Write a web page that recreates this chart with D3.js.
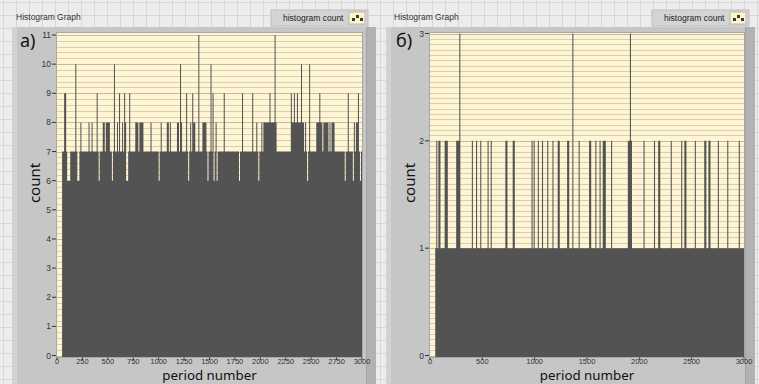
<!DOCTYPE html>
<html><head><meta charset="utf-8">
<script src="https://cdn.jsdelivr.net/npm/d3@7"></script>
<style>body{margin:0;background:#ececec;}svg{display:block}</style>
</head><body><svg id="c" width="759" height="384"></svg>
<script>
// ---- data ----
const binWidth = 10; // periods per bin
const countsA = [
0,0,0,0,0,7,7,9,9,7, 6,6,6,7,7,7,7,7,10,7,
6,6,7,8,7,7,7,7,7,7, 7,8,7,7,8,7,7,7,7,9,
7,6,7,7,7,8,8,7,8,8, 8,8,7,7,6,7,10,7,7,8,
7,9,7,7,8,7,9,8,6,6, 7,9,7,7,7,7,7,8,8,8,
7,8,8,8,8,7,7,7,7,7, 7,7,8,7,7,7,7,7,7,7,
6,7,8,7,7,7,7,7,8,8, 7,8,7,7,7,7,7,7,8,8,
7,10,8,7,7,7,7,9,7,6, 7,8,7,9,8,8,7,7,7,11,
7,7,7,8,8,8,8,7,6,7, 7,10,7,9,6,7,8,6,7,7,
7,7,7,7,9,7,7,7,7,7, 7,7,7,7,7,7,7,7,7,6,
7,7,9,7,7,7,7,7,7,7, 7,7,9,7,7,7,8,7,6,7,
7,8,7,8,8,8,8,8,8,9, 8,8,8,8,11,8,7,7,7,7,
7,7,7,7,7,7,7,7,7,7, 9,8,8,9,8,8,9,8,8,8,
10,8,8,7,8,7,6,7,10,7, 7,7,7,7,7,8,8,8,9,8,
8,7,8,8,8,8,8,7,8,7, 8,8,8,7,7,7,7,7,7,7,
7,7,7,6,7,7,9,7,7,7, 7,6,8,7,8,8,9,7,6,7
];
const countsB = [
0,0,0,0,0,1,2,1,2,2, 1,1,1,1,2,2,2,1,1,1,
1,1,1,1,1,2,2,2,3,1, 1,1,1,1,1,1,1,1,1,1,
2,1,1,1,2,1,1,1,2,1, 1,1,1,1,1,2,1,1,2,1,
1,1,1,1,1,1,1,1,1,1, 1,1,2,2,1,1,1,1,1,2,
2,1,1,1,1,1,1,1,1,1, 1,1,1,1,1,1,1,2,1,2,
1,1,1,2,1,1,1,2,1,1, 1,1,2,1,1,1,1,2,1,1,
1,1,2,2,1,1,1,1,1,1, 1,2,2,1,1,1,3,1,1,1,
1,1,2,1,1,1,1,1,1,1, 1,1,2,2,1,1,1,1,2,1,
1,1,2,1,1,2,2,2,1,1, 1,1,1,2,1,1,1,1,1,1,
1,1,1,1,1,1,1,1,1,2, 2,3,2,1,1,1,1,1,1,1,
1,1,1,1,2,1,1,1,1,1, 1,1,1,1,2,1,1,1,2,2,
1,1,1,1,1,1,1,1,1,1, 2,1,1,1,1,1,1,1,1,1,
2,1,1,2,2,1,1,1,1,1, 1,1,1,2,1,1,1,1,1,1,
1,1,2,2,1,1,2,2,1,1, 1,1,1,1,1,2,1,1,1,1,
1,1,1,1,2,1,1,1,1,1, 1,1,1,1,1,2,1,1,1,1
];
const xTicksA = [0,250,500,750,1000,1250,1500,1750,2000,2250,2500,2750,3000];
const xTicksB = [0,500,1000,1500,2000,2500,3000];
const yTicksA = [0,1,2,3,4,5,6,7,8,9,10,11];
const yTicksB = [0,1,2,3];
const xMax = 3000;
const panelTitle = "Histogram Graph";
const legendText = "histogram count";
const xTitle = "period number";
const yTitle = "count";

// ---- drawing ----
const svg = d3.select("#c");
const W = 759, H = 384;

const defs = svg.append("defs");
const pat = defs.append("pattern").attr("id","grid").attr("width",13).attr("height",13)
  .attr("patternUnits","userSpaceOnUse").attr("x",3).attr("y",2);
pat.append("rect").attr("width",13).attr("height",13).attr("fill","#ececec");
pat.append("path").attr("d","M0,0.5H13M0.5,0V13").attr("stroke","#d7d7d7").attr("stroke-width",1);
svg.append("rect").attr("width",W).attr("height",H).attr("fill","url(#grid)");

const panels = [
  {label:"a)", counts:countsA, xt:xTicksA, yt:yTicksA, yMax:11,
   bx:12, bw:364, px0:57, px1:362, yTop:35, titleX:16, legX:271,
   labX:20, yTitleX:40},
  {label:"б)", counts:countsB, xt:xTicksB, yt:yTicksB, yMax:3,
   bx:386, bw:369, px0:430, px1:744, yTop:33.5, titleX:394, legX:652,
   labX:396, yTitleX:415}
];

const tickFont = "'Liberation Sans Narrow','Arial Narrow','Liberation Sans',sans-serif";
const uiFont = "'Liberation Sans','DejaVu Sans',sans-serif";
const bigFont = "'Noto Sans','Open Sans',sans-serif";

panels.forEach(p => {
  const g = svg.append("g");
  g.append("text").attr("x",p.titleX).attr("y",20).text(panelTitle)
    .attr("font-family",uiFont).attr("font-size",8.5).attr("fill","#333");
  g.append("rect").attr("x",p.bx).attr("y",27).attr("width",p.bw).attr("height",H-27)
    .attr("fill","#c6c6c6");
  g.append("rect").attr("x",p.bx).attr("y",27).attr("width",5).attr("height",H-27)
    .attr("fill","#d2d2d2");
  g.append("rect").attr("x",p.bx+p.bw-10).attr("y",27).attr("width",10).attr("height",H-27)
    .attr("fill","#b2b2b2");
  g.append("rect").attr("x",p.bx+p.bw-10).attr("y",27).attr("width",1).attr("height",H-27)
    .attr("fill","#a4a4a4");
  g.append("rect").attr("x",p.legX).attr("y",10).attr("width",97).attr("height",16)
    .attr("fill","#d4d4d4").attr("stroke","#bdbdbd");
  g.append("text").attr("x",p.legX+12).attr("y",21).text(legendText)
    .attr("font-family",uiFont).attr("font-size",8.5).attr("fill","#222");
  const ic = g.append("g").attr("transform",`translate(${p.legX+78},12)`);
  ic.append("rect").attr("width",16).attr("height",12).attr("fill","#fff3c8").attr("stroke","#b8b8b8");
  ic.append("rect").attr("x",3).attr("y",6).attr("width",3).attr("height",3).attr("fill","#3a3a3a");
  ic.append("rect").attr("x",7).attr("y",3).attr("width",3).attr("height",3).attr("fill","#3a3a3a");
  ic.append("rect").attr("x",11).attr("y",6).attr("width",3).attr("height",3).attr("fill","#3a3a3a");

  const x = d3.scaleLinear().domain([0,xMax]).range([p.px0,p.px1]);
  const y = d3.scaleLinear().domain([0,p.yMax]).range([355.5,p.yTop]);
  const plotTop = 33, plotBot = 357;

  g.append("rect").attr("x",p.px0).attr("y",plotTop).attr("width",p.px1-p.px0)
    .attr("height",plotBot-plotTop).attr("fill","#fff5d2");
  const minorStep = p.yMax > 5 ? 0.2 : 0.05;
  const nMinor = Math.round(p.yMax/minorStep);
  const gridVals = d3.range(0,nMinor+1).map(k=>k*minorStep);
  g.append("g").selectAll("line").data(gridVals).join("line")
    .attr("x1",p.px0).attr("x2",p.px1)
    .attr("y1",d=>Math.round(y(d))+0.5).attr("y2",d=>Math.round(y(d))+0.5)
    .attr("stroke",d=>Math.abs(d-Math.round(d))<1e-6?"#c2bca6":"#d6cfb6").attr("stroke-width",1);

  const pts = p.counts.map((c,i)=>({x0:i*binWidth,c}));
  pts.push({x0:p.counts.length*binWidth, c:p.counts[p.counts.length-1]});
  const area = d3.area().curve(d3.curveStepAfter)
    .x(d=>x(d.x0)).y0(y(0)+1.5).y1(d=>d.c>0?y(d.c):y(0)+1.5);
  g.append("path").datum(pts).attr("d",area).attr("fill","#535353");

  g.append("rect").attr("x",p.px0-0.5).attr("y",plotTop-0.5).attr("width",p.px1-p.px0+1)
    .attr("height",plotBot-plotTop+1).attr("fill","none").attr("stroke","#a8a8a8");

  const ya = g.append("g");
  p.yt.forEach(v=>{
    ya.append("line").attr("x1",p.px0-5).attr("x2",p.px0-1).attr("y1",y(v)).attr("y2",y(v))
      .attr("stroke","#333").attr("stroke-width",1);
    ya.append("text").attr("x",p.px0-6).attr("y",y(v)+3).attr("text-anchor","end")
      .attr("font-family",tickFont).attr("font-size",8.5).attr("fill","#333").text(v);
  });
  const xa = g.append("g");
  p.xt.forEach(v=>{
    xa.append("line").attr("x1",x(v)).attr("x2",x(v)).attr("y1",357.5).attr("y2",360)
      .attr("stroke","#333").attr("stroke-width",1);
    xa.append("text").attr("x",x(v)).attr("y",364.3).attr("text-anchor","middle")
      .attr("font-family",tickFont).attr("font-size",7.5).attr("fill","#333").text(v);
  });
  g.append("text").attr("x",(p.px0+p.px1)/2).attr("y",380.2).attr("text-anchor","middle")
    .attr("font-family",bigFont).attr("font-size",13.3).attr("fill","#111").text(xTitle);
  g.append("text").attr("transform",`translate(${p.yTitleX},183) rotate(-90)`)
    .attr("text-anchor","middle").attr("font-family",bigFont).attr("font-size",15)
    .attr("fill","#111").text(yTitle);
  g.append("text").attr("x",p.labX).attr("y",47).attr("font-family",bigFont)
    .attr("font-size",18).attr("fill","#111").text(p.label);
});
</script></body></html>
